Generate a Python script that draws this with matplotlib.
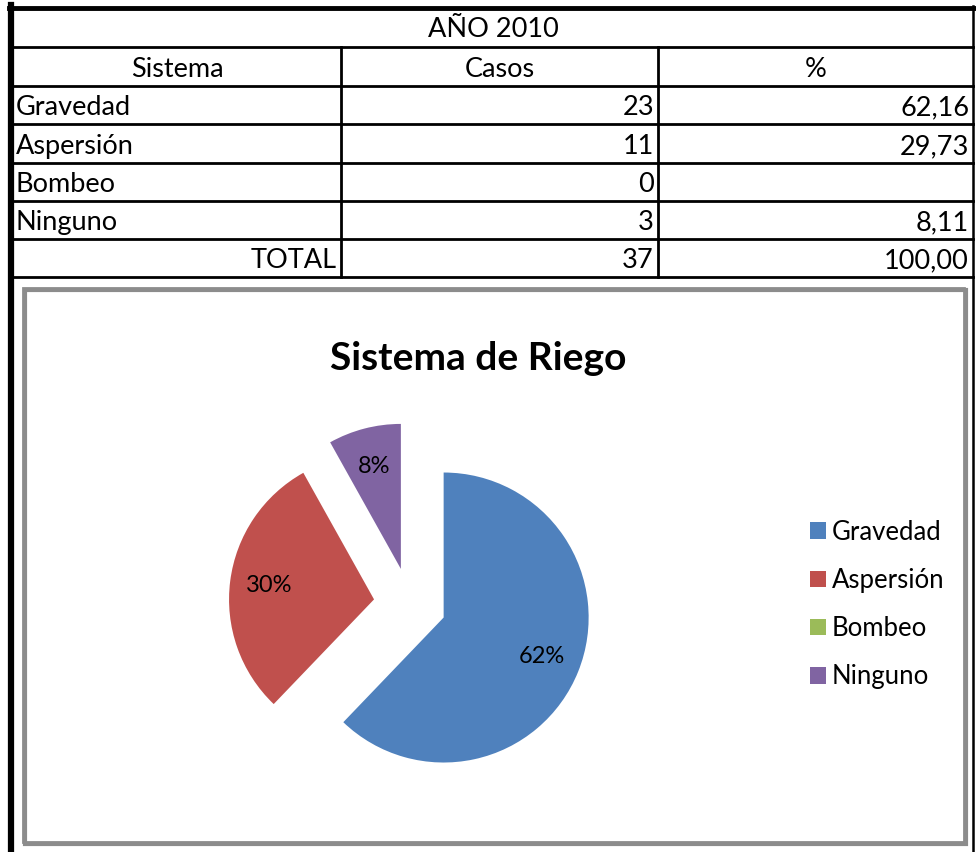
import matplotlib
matplotlib.use("Agg")
import matplotlib.pyplot as plt
from matplotlib.patches import Rectangle

plt.rcParams['font.family'] = ['Lato', 'DejaVu Sans']

# datos
anio = "AÑO 2010"
encabezados = ["Sistema", "Casos", "%"]
sistemas = ["Gravedad", "Aspersión", "Bombeo", "Ninguno"]
casos = [23, 11, 0, 3]
colores = ["#4F81BD", "#C0504D", "#9BBB59", "#8064A2"]
titulo = "Sistema de Riego"

total = sum(casos)
porcentajes = [c / total * 100 for c in casos]


def coma(v):
    return f"{v:.2f}".replace(".", ",")


W, H = 976, 852
fig = plt.figure(figsize=(W / 100, H / 100), dpi=100)

# capa de fondo en pixeles para la tabla y los marcos
bg = fig.add_axes([0, 0, 1, 1])
bg.set_xlim(0, W)
bg.set_ylim(H, 0)
bg.axis("off")

x_izq, x_c1, x_c2, x_der = 13, 341, 658, 973
filas = [7, 47, 86, 124, 163, 201, 239, 277]
fs_tabla = 19.5

# bordes de la tabla
bg.plot([10.5, 10.5], [5, H], color="black", lw=4.5)
bg.plot([9, x_der + 1], [7.5, 7.5], color="black", lw=3.5)
bg.plot([x_der, x_der], [6, H], color="black", lw=1.8)
for y in filas[1:]:
    bg.plot([x_izq, x_der], [y, y], color="black", lw=2)
for x in (x_c1, x_c2):
    bg.plot([x, x], [filas[1], filas[-1]], color="black", lw=2)

def texto(x, y, s, ha):
    bg.text(x, y, s, ha=ha, va="baseline", fontsize=fs_tabla, color="black")

texto((x_izq + x_der) / 2, filas[1] - 10, anio, "center")
texto((x_izq + x_c1) / 2, filas[2] - 9, encabezados[0], "center")
texto((x_c1 + x_c2) / 2, filas[2] - 9, encabezados[1], "center")
texto((x_c2 + x_der) / 2, filas[2] - 9, encabezados[2], "center")

for i, (nom, c, p) in enumerate(zip(sistemas, casos, porcentajes)):
    yb = filas[3 + i] - 9
    texto(x_izq + 3, yb, nom, "left")
    texto(x_c2 - 4, yb, str(c), "right")
    texto(x_der - 4, yb, coma(p) if c > 0 else "", "right")

yb = filas[-1] - 9
texto(x_c1 - 4, yb, "TOTAL", "right")
texto(x_c2 - 4, yb, str(total), "right")
texto(x_der - 4, yb, coma(sum(porcentajes)), "right")

# marco del grafico con sombra
bg.add_patch(Rectangle((25, 290), 941, 554, fill=False, edgecolor="#8c8c8c", lw=3))
bg.add_patch(Rectangle((23, 288), 941, 554, fill=False, edgecolor="#8c8c8c", lw=2))

bg.text(478, 359, titulo, ha="center", va="center", fontsize=28, fontweight="bold")

# pastel
cx, cy, r_px, half = 410, 604, 145, 200
ax = fig.add_axes([(cx - half) / W, (H - cy - half) / H, 2 * half / W, 2 * half / H])


def etiqueta(p):
    return f"{p:.0f}%" if p > 0 else ""


wedges, _, autotexts = ax.pie(
    casos, explode=[0.25] * len(casos), colors=colores, startangle=90,
    counterclock=False, autopct=etiqueta, pctdistance=0.73,
    textprops={"fontsize": 17, "color": "black"},
)
lim = half / r_px
ax.set_xlim(-lim, lim)
ax.set_ylim(-lim, lim)
ax.set_aspect("equal")
ax.axis("off")

fig.legend(
    wedges, sistemas, loc="upper left",
    bbox_to_anchor=(797 / W, 1 - 507 / H), frameon=False,
    fontsize=18.5, handlelength=0.62, handleheight=0.62,
    handletextpad=0.22, labelspacing=0.90, borderpad=0,
)

fig.savefig("out.png", dpi=100)
